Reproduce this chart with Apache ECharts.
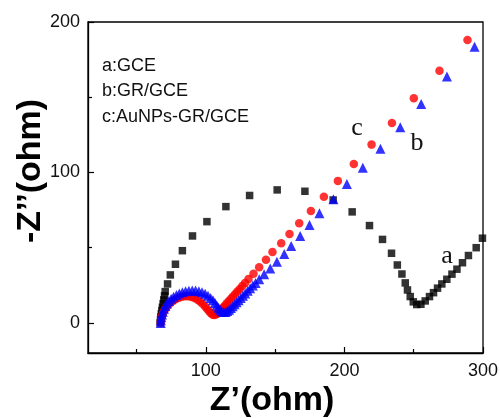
<!DOCTYPE html>
<html>
<head>
<meta charset="utf-8">
<script src="https://cdn.jsdelivr.net/npm/echarts@6/dist/echarts.min.js"></script>
<style>
  html, body { margin: 0; padding: 0; background: #fff; }
  #chart { width: 500px; height: 418px; }
</style>
</head>
<body>
<div id="chart"></div>
<script>
// Nyquist plots: [Z' (ohm), -Z'' (ohm)]
const gcePoints = [
  [67.1,0],[67.3,2],[67.6,4],[67.9,6],[68.3,8.2],[68.7,10.4],[69.2,12.8],[69.7,15.3],
  [70.2,18],[70.7,20.8],[72.4,25.9],[74.4,31.9],[78.1,39],[83.1,48],[90.4,57.8],
  [100.8,67.3],[114.5,77.3],[131.6,84.7],[151.5,88.4],[171.5,87.5],[191.9,81.7],
  [205.6,73.8],[218.1,64.7],[227.5,55.5],[234,46.3],[238.2,38.5],[241.5,32.5],
  [243.9,26.6],[245.5,21.9],[247.5,17.5],[249.7,14],[252.2,12.2],[255.2,12.4],
  [258.3,14.6],[261.4,17.5],[264.3,20.1],[267.2,23.1],[270.3,25.9],[273.9,29],
  [277.6,32.4],[281.2,35.7],[285.2,40],[289.5,44.8],[295.1,50],[299.6,56.3]
];

const grGcePoints = [
  [67.5,0],[67.6,1.8],[67.9,3.7],[68.4,5.6],[69,7.5],[69.8,9.4],[70.8,11.2],[72,12.9],
  [73.4,14.5],[75,16],[76.8,17.4],[78.8,18.6],[80.9,19.6],[83.1,20.4],[85.4,21],
  [87.8,21.4],[90.2,21.6],[92.6,21.5],[95,21.1],[97.3,20.4],[99.5,19.4],[101.6,18.1],
  [103.5,16.6],[105.2,15],[106.7,13.3],[108,11.6],[109.2,10],[110.3,8.7],[111.5,7.7],
  [112.8,7.2],[114.2,7.3],[115.5,7.9],[116.8,8.8],[118.1,9.9],[119.4,11.1],[120.8,12.4],
  [122.2,13.7],[123.7,15.1],[125.2,16.5],[126.8,18],[128.4,19.6],[130.2,21.3],[132,23.1],
  [133.9,24.8],[135.9,26.6],[138.5,29],[142.1,32.4],[146.5,36.1],[151.3,40.7],
  [156.6,45.8],[161.6,51.2],[168.1,57.8],[174.8,65.1],[182,72.9],[192.1,82.2],
  [201.8,92.4],[213.3,103.2],[226,115.8],[240.3,130],[255.4,145.5],[274,163.7],[293.9,183.6]
];

const auNpsPoints = [
  [67.5,0],[67.7,1.8],[68.1,3.6],[68.7,5.4],[69.5,7.2],[70.5,8.9],[71.7,10.6],[73.1,12.1],
  [74.7,13.5],[76.5,14.8],[78.5,15.9],[80.6,16.8],[82.8,17.4],[85.1,17.7],[87.4,17.7],
  [89.7,17.3],[91.9,16.5],[94,15.4],[96,14],[97.8,12.5],[99.5,10.9],[101,9.3],[102.4,7.8],
  [103.7,6.5],[105,5.5],[106.3,5.2],[107.6,5.7],[108.8,6.6],[110,7.7],[111.2,8.9],
  [112.5,10.2],[113.9,11.6],[115.2,13],[116.6,14.5],[118.1,16],[119.6,17.6],[121.2,19.2],
  [122.8,20.8],[124.5,22.6],[126.3,24.5],[128.3,26.6],[130.8,29.2],[134.4,32.6],
  [138.5,37],[143.4,41.9],[148.1,47.2],[154.4,53],[160.4,59.1],[167.4,66.2],[175.8,74.4],
  [185.2,83.9],[195.3,94.4],[206.8,105.6],[219.6,118.5],[234.3,132.9],[250.1,149.3],
  [268.6,167.6],[288.8,188]
];

// Axis ticks and labels
const xMajorTicks = [100, 200, 300];
const xMinorTicks = [50, 150, 250];
const yMajorTicks = [0, 100, 200];
const yMinorTicks = [50, 150];

const legendLines = ['a:GCE', 'b:GR/GCE', 'c:AuNPs-GR/GCE'];
const curveTags = ['a', 'b', 'c'];

const X_MIN = 15, X_MAX = 300, Y_MIN = -20, Y_MAX = 200;
const sansFont = '"Liberation Sans", Arial, sans-serif';
const serifFont = '"Liberation Serif", "Times New Roman", serif';

const chart = echarts.init(document.getElementById('chart'), null, { renderer: 'canvas' });

function xAxisDef(ticks, len, withLine, withLabels) {
  return {
    type: 'value', min: X_MIN, max: X_MAX, position: 'bottom',
    axisLine: { show: withLine, onZero: false, lineStyle: { color: '#000', width: 1.3 } },
    axisTick: { show: true, inside: true, length: len, customValues: ticks, lineStyle: { color: '#000', width: 1.2 } },
    axisLabel: withLabels
      ? { show: true, customValues: xMajorTicks, margin: 9, color: '#111', fontSize: 18, fontFamily: sansFont }
      : { show: false },
    splitLine: { show: false }
  };
}
function yAxisDef(ticks, len, withLine, withLabels) {
  return {
    type: 'value', min: Y_MIN, max: Y_MAX, position: 'left',
    axisLine: { show: withLine, onZero: false, lineStyle: { color: '#000', width: 1.3 } },
    axisTick: { show: true, inside: true, length: len, customValues: ticks, lineStyle: { color: '#000', width: 1.2 } },
    axisLabel: withLabels
      ? { show: true, customValues: yMajorTicks, margin: 8, color: '#111', fontSize: 18, fontFamily: sansFont }
      : { show: false },
    splitLine: { show: false }
  };
}

const option = {
  animation: false,
  backgroundColor: '#fff',
  grid: {
    left: 88, right: 17, top: 22, bottom: 65,
    show: true, borderColor: '#000', borderWidth: 1.3,
    containLabel: false, outerBoundsMode: 'none'
  },
  xAxis: [
    xAxisDef(xMajorTicks, 6, true, true),
    xAxisDef(xMinorTicks, 4, false, false)
  ],
  yAxis: [
    yAxisDef(yMajorTicks, 6, true, true),
    yAxisDef(yMinorTicks, 4, false, false)
  ],
  series: [
    {
      name: 'a:GCE', type: 'scatter', data: gcePoints,
      symbol: 'rect', symbolSize: 7.5,
      itemStyle: { color: '#000' }
    },
    {
      name: 'c:AuNPs-GR/GCE', type: 'scatter', data: auNpsPoints,
      symbol: 'circle', symbolSize: 8.5,
      itemStyle: { color: '#ff0000' }
    },
    {
      name: 'b:GR/GCE', type: 'scatter', data: grGcePoints,
      symbol: 'triangle', symbolSize: 10,
      itemStyle: { color: '#0000ff' }
    }
  ],
  graphic: [
    // legend block
    ...legendLines.map((t, i) => ({
      type: 'text', left: 102, top: 57 + i * 25.5,
      style: { text: t, font: '18px ' + sansFont, fill: '#111' }
    })),
    // curve tags
    {
      type: 'text', x: 447, y: 256,
      style: { text: curveTags[0], font: '26px ' + serifFont, fill: '#111', align: 'center', verticalAlign: 'middle' }
    },
    {
      type: 'text', x: 417, y: 143,
      style: { text: curveTags[1], font: '26px ' + serifFont, fill: '#111', align: 'center', verticalAlign: 'middle' }
    },
    {
      type: 'text', x: 357, y: 128,
      style: { text: curveTags[2], font: '26px ' + serifFont, fill: '#111', align: 'center', verticalAlign: 'middle' }
    },
    // axis titles
    {
      type: 'text', x: 272, y: 401,
      style: { text: 'Z\u2019(ohm)', font: 'bold 34px ' + sansFont, fill: '#000', align: 'center', verticalAlign: 'middle' }
    },
    {
      type: 'text', x: 31, y: 171, rotation: Math.PI / 2,
      style: { text: '-Z\u2019\u2019(ohm)', font: 'bold 34px ' + sansFont, fill: '#000', align: 'center', verticalAlign: 'middle' }
    }
  ]
};

chart.setOption(option);
</script>
</body>
</html>
